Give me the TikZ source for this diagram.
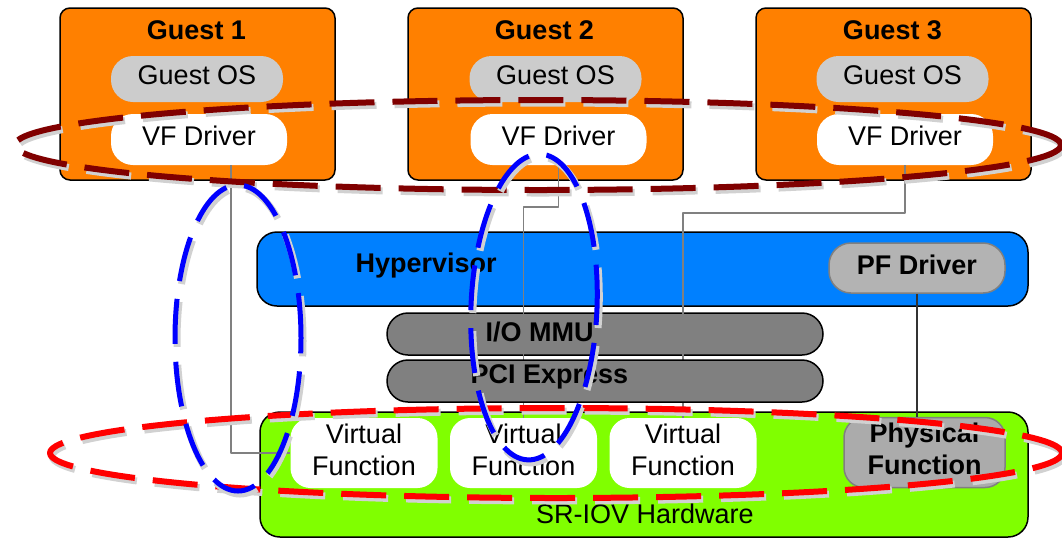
\documentclass[tikz,border=0pt]{standalone}
\usepackage{fontspec}
\setmainfont{Liberation Sans}
\definecolor{guestorange}{HTML}{FF8000}
\definecolor{osgray}{HTML}{CCCCCC}
\definecolor{hypblue}{HTML}{0080FF}
\definecolor{pfgray}{HTML}{B3B3B3}
\definecolor{busgray}{HTML}{808080}
\definecolor{hwgreen}{HTML}{80FF00}
\definecolor{darkred}{HTML}{800000}
\newcommand{\bigtext}{\fontsize{27}{32}\selectfont}
\begin{document}
\begin{tikzpicture}[x=1pt,y=-1pt,line join=round,
  boxed/.style={draw=black,line width=1.5pt,inner sep=0pt},
  guest/.style={boxed,fill=guestorange,rounded corners=10pt,minimum width=275pt,minimum height=172pt},
  pill/.style={inner sep=0pt,font=\bigtext,rounded corners=22pt,text depth=7pt},
  fnbox/.style={inner sep=0pt,rounded corners=20pt,minimum width=147pt,minimum height=70pt,align=center,font=\bigtext,text height=52pt,text depth=8pt},
  link/.style={draw=busgray,line width=1.5pt},
  ring/.style={line width=6pt,dash pattern=on 45pt off 18pt,
    preaction={draw=black!18,line width=7pt,dash pattern=on 45pt off 18pt,transform canvas={shift={(2pt,-3pt)}}}}]
\useasboundingbox (0,0) rectangle (1062,539);
\foreach \n/\x/\o/\d in {1/197.5/197/199,2/545.5/555.5/558.5,3/893.5/902.5/905}{
  \node[guest] (g\n) at (\x,94) {};
  \node[font=\bigtext\bfseries] (t\n) at (\x-1,30) {Guest \n};
  \node[pill,fill=osgray,minimum width=172pt,minimum height=46pt] (os\n) at (\o,79) {Guest OS};
  \node[pill,fill=white,minimum width=176pt,minimum height=51pt] (vfd\n) at (\d,139.5) {VF Driver};
}
\node[boxed,fill=hypblue,rounded corners=20pt,minimum width=771pt,minimum height=74pt] (hyp) at (642.5,269) {};
\node[font=\bigtext\bfseries,anchor=west] (hyptext) at (352,266) {Hypervisor};
\node[pill,draw=busgray,line width=1.5pt,fill=pfgray,font=\bigtext\bfseries,minimum width=176pt,minimum height=50pt] (pfd) at (917,268) {PF Driver};
\node[boxed,fill=busgray,rounded corners=21pt,minimum width=436pt,minimum height=42pt] (iommu) at (605,334) {};
\node[font=\bigtext\bfseries,anchor=west] (iommutext) at (482,332) {I/O MMU};
\node[boxed,fill=hwgreen,rounded corners=20pt,minimum width=768pt,minimum height=125pt] (hw) at (644,474.5) {};
\node[font=\bigtext] (hwtext) at (645,514) {SR-IOV Hardware};
\foreach \n/\x in {1/364,2/523.5,3/683}
  \node[fnbox,fill=white] (vf\n) at (\x,453) {Virtual\\Function};
\node[fnbox,draw=busgray,line width=1.5pt,fill=black!33,font=\bigtext\bfseries,minimum width=161pt] (pf) at (924.5,452.5) {Physical\\Function};
\draw[link] ([xshift=32pt]vfd1.south) |- (vf1.west);
\draw[link] (vfd2.south) -- ++(0,42) -| (vf2.north);
\draw[link] (vfd3.south) -- ++(0,48) -| (vf3.north);
\draw[line width=1.5pt,black!80] (pfd.south) -- (pfd.south |- pf.north);
\node[boxed,fill=busgray,rounded corners=21pt,minimum width=436pt,minimum height=42pt] (pcie) at (605,381) {};
\node[font=\bigtext\bfseries,anchor=west] (pcietext) at (467,377) {PCI Express};
\draw[ring,darkred] (538,145) ellipse [x radius=523pt,y radius=45pt];
\draw[ring,red] (556,453) ellipse [x radius=506pt,y radius=45pt];
\draw[ring,blue,line width=5pt] (238,338) ellipse [x radius=63pt,y radius=153pt];
\draw[ring,blue,line width=5pt] (534,307) circle [x radius=63pt,y radius=153pt,rotate=-2.4];
\end{tikzpicture}
\end{document}
